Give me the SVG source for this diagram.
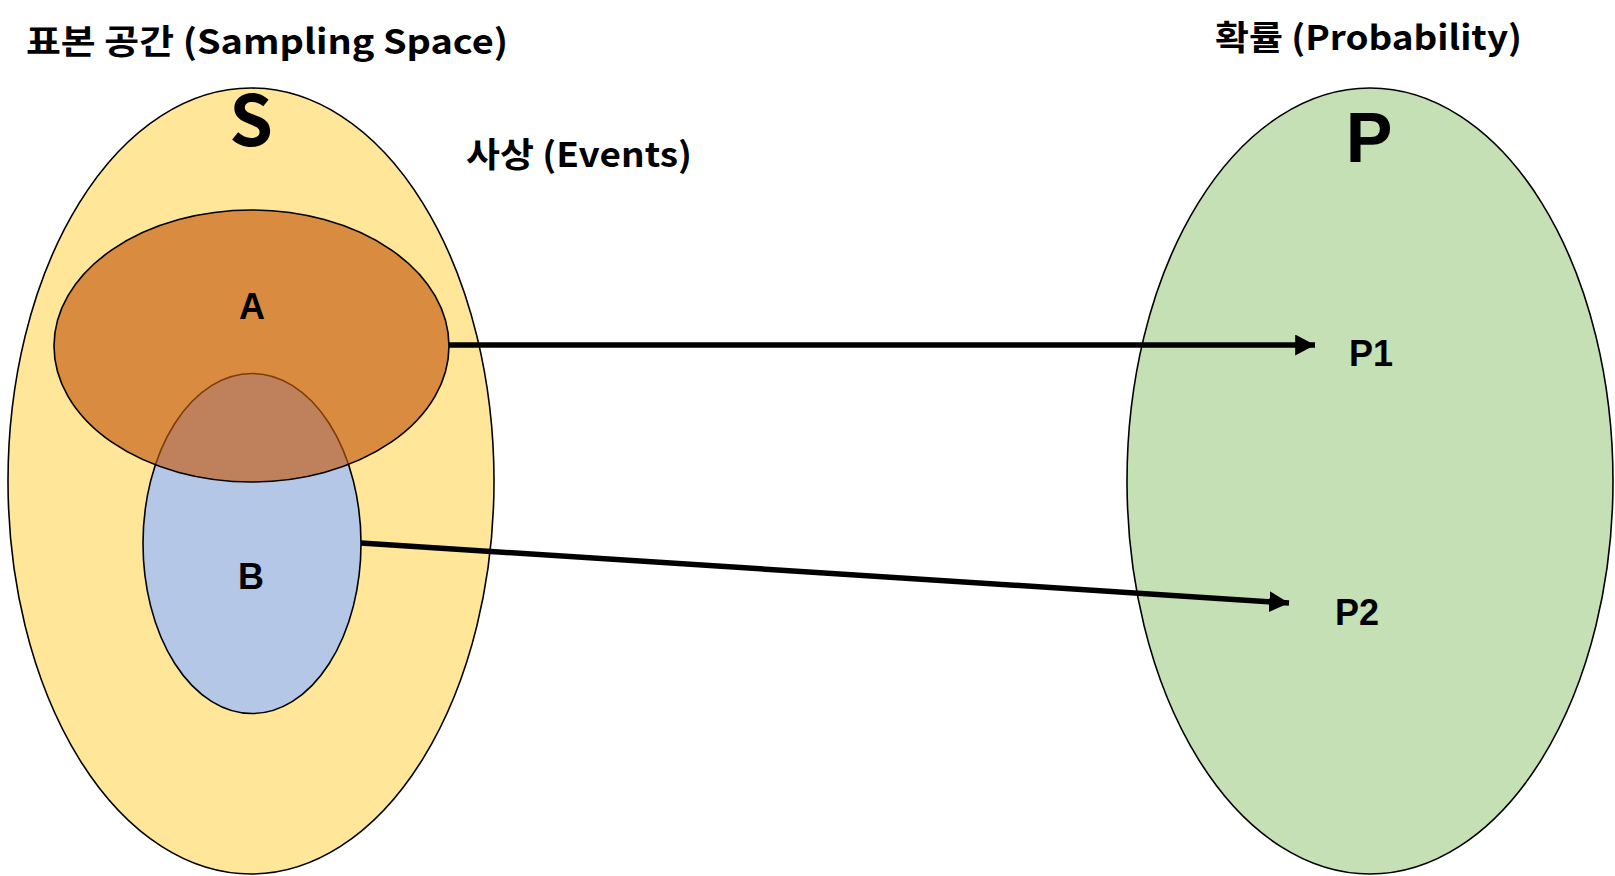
<svg xmlns="http://www.w3.org/2000/svg" width="1615" height="876" viewBox="0 0 1615 876">
<style>
.title{font-family:"Noto Sans CJK KR","Noto Sans",sans-serif;font-weight:bold;font-size:34px;fill:#000}
.big{font-family:"Liberation Sans",Arial,sans-serif;font-weight:bold;font-size:70px;fill:#000;text-anchor:middle}
.lbl{font-family:"Liberation Sans",Arial,sans-serif;font-weight:bold;font-size:36px;fill:#000;text-anchor:middle}
.set{stroke:#000;stroke-width:1.6}
.conn{stroke:#000;stroke-width:5.5;fill:none}
</style>
<defs>
<marker id="ah" markerWidth="4" markerHeight="4" refX="3.6" refY="1.9" orient="auto" markerUnits="strokeWidth">
<path d="M0,0 L3.6,1.9 L0,3.8 Z" fill="#000"/>
</marker>
</defs>
<rect width="1615" height="876" fill="#fff"/>
<text class="title" x="26" y="54" textLength="482" lengthAdjust="spacingAndGlyphs">표본 공간 (Sampling Space)</text>
<text class="title" x="1215" y="50" textLength="307" lengthAdjust="spacingAndGlyphs">확률 (Probability)</text>
<text class="title" x="466" y="167" textLength="226" lengthAdjust="spacingAndGlyphs">사상 (Events)</text>
<g id="S">
<ellipse class="set" cx="251" cy="481" rx="243" ry="393" fill="#FFE699"/>
<text class="big" x="251" y="146" style="font-family:'Noto Sans CJK KR','Noto Sans',sans-serif">S</text>
</g>
<g id="P">
<ellipse class="set" cx="1370" cy="481" rx="243" ry="393" fill="#C5E0B4"/>
<text class="big" x="1369" y="162">P</text>
</g>
<g id="B">
<ellipse class="set" cx="252" cy="543.5" rx="109" ry="170" fill="#B4C7E7"/>
<text class="lbl" x="251" y="589">B</text>
</g>
<g id="A">
<ellipse cx="251.5" cy="346" rx="197.5" ry="136" fill="#C55A11" fill-opacity="0.65" stroke="#000" stroke-width="1.6"/>
<text class="lbl" x="252" y="319">A</text>
</g>
<g id="P1"><text class="lbl" x="1371" y="366">P1</text></g>
<g id="P2"><text class="lbl" x="1357" y="625">P2</text></g>
<g id="connectors">
<line class="conn" x1="449" y1="345" x2="1315" y2="345" marker-end="url(#ah)"/>
<line class="conn" x1="361" y1="543" x2="1289" y2="603" marker-end="url(#ah)"/>
</g>
</svg>
